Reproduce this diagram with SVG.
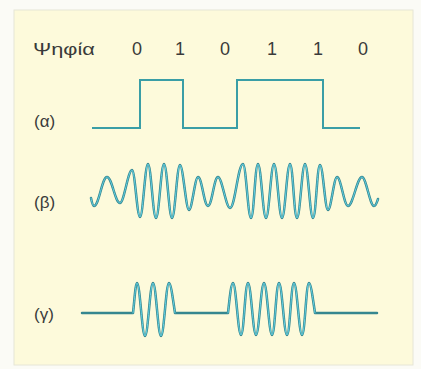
<svg xmlns="http://www.w3.org/2000/svg" width="421" height="369" viewBox="0 0 421 369">
<style>
text{font-family:"Liberation Sans",Arial,sans-serif;fill:#3a3a3a;}
.lbl{font-size:17px;}
.dig{font-size:18px;text-anchor:middle;}
.sq{fill:none;stroke:#3a9ea6;stroke-width:2;stroke-linejoin:miter;}
.wv1{fill:none;stroke:#35868f;stroke-width:2.5;stroke-linejoin:round;stroke-linecap:round;}
.wv2{fill:none;stroke:#62d2e4;stroke-width:1;stroke-linejoin:round;stroke-linecap:round;}
</style>
<rect x="0" y="0" width="421" height="369" fill="#fbfbf6"/>
<rect x="14" y="10" width="399" height="355" fill="#fdfadb" stroke="#e6e6d6" stroke-width="1"/>
<g id="header">
<text class="lbl" x="33" y="55" font-size="18" textLength="62" lengthAdjust="spacingAndGlyphs">Ψηφία</text>
<text class="dig" x="137" y="55">0</text>
<text class="dig" x="180" y="55">1</text>
<text class="dig" x="225" y="55">0</text>
<text class="dig" x="272" y="55">1</text>
<text class="dig" x="318" y="55">1</text>
<text class="dig" x="363" y="55">0</text>
</g>
<g id="alpha">
<text class="lbl" x="34" y="127">(α)</text>
<path class="sq" d="M92,128 H140 V80 H183 V128 H237 V80 H323 V128 H360"/>
</g>
<g id="beta">
<text class="lbl" x="34" y="208">(β)</text>
<g id="beta-wave">
<path class="wv1" d="M91,198 C92,203 93,206 94,206 C99,206 102,177 107,177 C112,177 115,203 120,203 C124,203 128,170 132,170 C135,170 137,217 140,217 C143,217 145,164 148,164 C151,164 153,218 156,218 C159,218 161,164 164,164 C167,164 169,218 172,218 C175,218 177,165 180,165 C183,165 186,210 189,210 C192,210 195,177 198,177 C202,177 204,206 208,206 C212,206 214,177 218,177 C222,177 226,208 230,208 C235,208 238,164 243,164 C246,164 248,218 251,218 C254,218 255,164 258,164 C261,164 263,218 266,218 C269,218 271,164 274,164 C277,164 279,218 282,218 C285,218 287,164 290,164 C293,164 294,218 297,218 C300,218 302,164 305,164 C308,164 310,218 313,218 C316,218 317,165 320,165 C323,165 325,210 328,210 C331,210 334,177 337,177 C341,177 344,206 348,206 C353,206 357,177 362,177 C366,177 370,206 374,206 C376,206 377,202 378,199"/>
<path class="wv2" d="M91,198 C92,203 93,206 94,206 C99,206 102,177 107,177 C112,177 115,203 120,203 C124,203 128,170 132,170 C135,170 137,217 140,217 C143,217 145,164 148,164 C151,164 153,218 156,218 C159,218 161,164 164,164 C167,164 169,218 172,218 C175,218 177,165 180,165 C183,165 186,210 189,210 C192,210 195,177 198,177 C202,177 204,206 208,206 C212,206 214,177 218,177 C222,177 226,208 230,208 C235,208 238,164 243,164 C246,164 248,218 251,218 C254,218 255,164 258,164 C261,164 263,218 266,218 C269,218 271,164 274,164 C277,164 279,218 282,218 C285,218 287,164 290,164 C293,164 294,218 297,218 C300,218 302,164 305,164 C308,164 310,218 313,218 C316,218 317,165 320,165 C323,165 325,210 328,210 C331,210 334,177 337,177 C341,177 344,206 348,206 C353,206 357,177 362,177 C366,177 370,206 374,206 C376,206 377,202 378,199"/>
</g>
</g>
<g id="gamma">
<text class="lbl" x="34" y="320">(γ)</text>
<g id="gamma-wave">
<path class="wv1" d="M82,313 H133 C134.5,300 135.5,283 137,283 C140,283 142,336 145,336 C148,336 150,283 153,283 C156,283 158,336 161,336 C164,336 166,283 169,283 C171,283 173,300 175,313 H228 C229.5,300 231,283 233,283 C236,283 238,335 241,335 C244,335 245,283 248,283 C251,283 253,335 256,335 C259,335 261,283 264,283 C267,283 269,335 272,335 C275,335 276,283 279,283 C282,283 284,335 287,335 C290,335 291,283 294,283 C297,283 299,335 302,335 C305,335 306,283 309,283 C311,283 313,300 315,313 H377"/>
<path class="wv2" d="M133,313 C134.5,300 135.5,283 137,283 C140,283 142,336 145,336 C148,336 150,283 153,283 C156,283 158,336 161,336 C164,336 166,283 169,283 C171,283 173,300 175,313 M228,313 C229.5,300 231,283 233,283 C236,283 238,335 241,335 C244,335 245,283 248,283 C251,283 253,335 256,335 C259,335 261,283 264,283 C267,283 269,335 272,335 C275,335 276,283 279,283 C282,283 284,335 287,335 C290,335 291,283 294,283 C297,283 299,335 302,335 C305,335 306,283 309,283 C311,283 313,300 315,313"/>
</g>
</g>
</svg>
